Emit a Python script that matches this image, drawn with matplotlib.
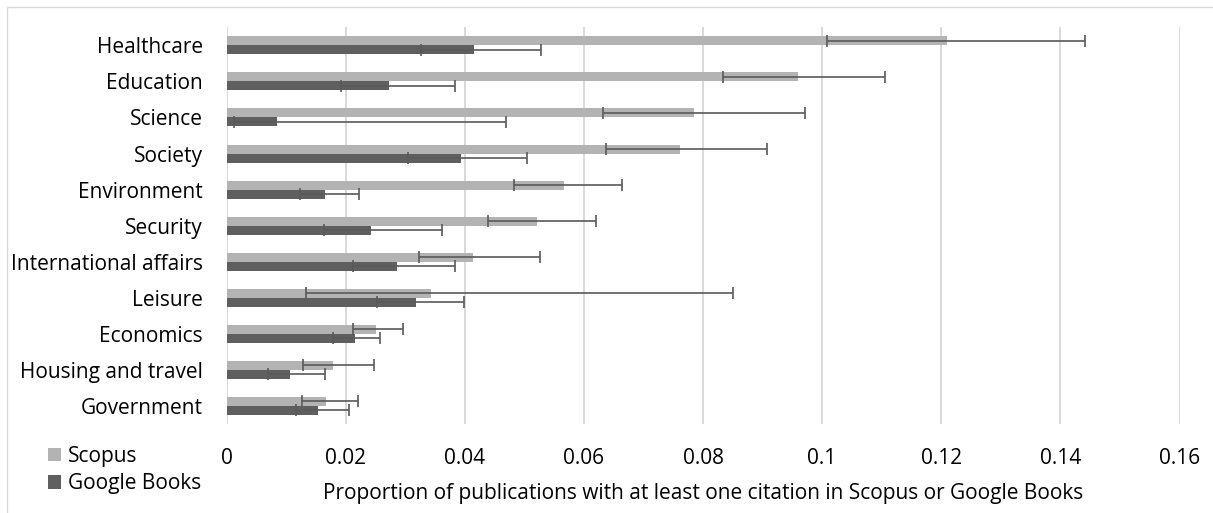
import matplotlib
matplotlib.use("Agg")
import matplotlib.pyplot as plt
from matplotlib.patches import Patch, Rectangle
import numpy as np

plt.rcParams['font.family'] = ['Open Sans', 'DejaVu Sans']

categories = ["Healthcare", "Education", "Science", "Society", "Environment", "Security",
              "International affairs", "Leisure", "Economics", "Housing and travel", "Government"]

scopus = [0.1209, 0.0960, 0.0785, 0.0762, 0.0567, 0.0522, 0.0414, 0.0343, 0.0251, 0.0179, 0.0167]
scopus_low = [0.1009, 0.0833, 0.0632, 0.0637, 0.0483, 0.0439, 0.0324, 0.0133, 0.0212, 0.0129, 0.0127]
scopus_high = [0.1442, 0.1105, 0.0971, 0.0907, 0.0664, 0.0621, 0.0527, 0.0850, 0.0296, 0.0248, 0.0221]

gbooks = [0.0416, 0.0273, 0.0085, 0.0394, 0.0165, 0.0243, 0.0287, 0.0318, 0.0215, 0.0107, 0.0154]
gbooks_low = [0.0327, 0.0193, 0.0013, 0.0305, 0.0123, 0.0163, 0.0213, 0.0253, 0.0179, 0.0070, 0.0116]
gbooks_high = [0.0528, 0.0384, 0.0470, 0.0505, 0.0223, 0.0361, 0.0384, 0.0399, 0.0258, 0.0165, 0.0205]

xticks = [0, 0.02, 0.04, 0.06, 0.08, 0.1, 0.12, 0.14, 0.16]
xticklabels = ["0", "0.02", "0.04", "0.06", "0.08", "0.1", "0.12", "0.14", "0.16"]

W, H = 1213, 513
fig = plt.figure(figsize=(W / 100, H / 100), dpi=100)
ax = fig.add_axes([226.5 / W, 1 - 424 / H, (1179.5 - 226.5) / W, (424 - 27.3) / H])

c_scopus = "#b3b3b3"
c_gb = "#5f5f5f"
c_err = "#595959"
fs = 15

y = np.arange(len(categories))
h = 0.25
s = np.array(scopus); g = np.array(gbooks)
ax.barh(y - h / 2, s, height=h, color=c_scopus, zorder=2)
ax.barh(y + h / 2, g, height=h, color=c_gb, zorder=2)
ax.errorbar(s, y - h / 2, xerr=[s - np.array(scopus_low), np.array(scopus_high) - s],
            fmt='none', ecolor=c_err, elinewidth=1.2, capsize=4.2, capthick=1.2, zorder=3)
ax.errorbar(g, y + h / 2, xerr=[g - np.array(gbooks_low), np.array(gbooks_high) - g],
            fmt='none', ecolor=c_err, elinewidth=1.2, capsize=4.2, capthick=1.2, zorder=3)

ax.set_xlim(0, 0.16)
ax.set_ylim(len(categories) - 0.5, -0.5)
ax.set_xticks(xticks)
ax.set_xticklabels(xticklabels, fontsize=fs, color="#000000")
ax.set_yticks(y)
ax.set_yticklabels(categories, fontsize=fs, color="#000000")
ax.tick_params(axis='y', length=0, pad=17)
ax.tick_params(axis='x', length=0, pad=17)
ax.grid(axis='x', color="#d9d9d9", linewidth=1.4, zorder=0)
ax.set_axisbelow(True)
for sp in ax.spines.values():
    sp.set_visible(False)

ax.set_xlabel("Proportion of publications with at least one citation in Scopus or Google Books",
              fontsize=fs, labelpad=10)

handles = [Patch(facecolor=c_scopus, edgecolor='none'), Patch(facecolor=c_gb, edgecolor='none')]
fig.legend(handles, ["Scopus", "Google Books"], loc='upper left',
           bbox_to_anchor=(48 / W, 1 - 446 / H), frameon=False, fontsize=fs,
           borderpad=0, borderaxespad=0, handlelength=0.6, handleheight=0.6,
           handletextpad=0.35, labelspacing=0.3)

fig.add_artist(Rectangle((6.5 / W, -0.5), 2, 1.5 - 6.5 / H, transform=fig.transFigure,
                         fill=False, edgecolor="#d9d9d9", linewidth=1.0, clip_on=False))

fig.savefig("out.png", dpi=100)
